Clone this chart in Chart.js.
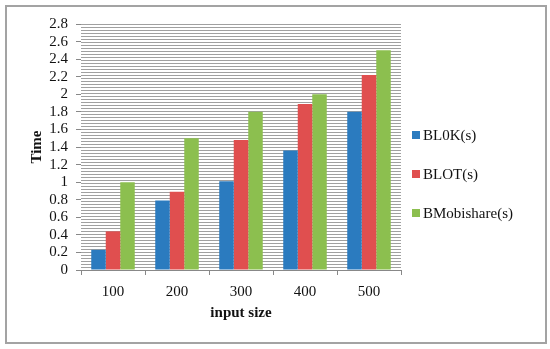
<!DOCTYPE html>
<html>
<head>
<meta charset="utf-8">
<script src="https://cdn.jsdelivr.net/npm/chart.js@4"></script>
<style>
  html, body { margin: 0; padding: 0; background: #fff; }
  #wrap { position: relative; width: 550px; height: 349px; }
  #frame { position: absolute; left: 5px; top: 5px; width: 538px; height: 335px; border: 2px solid #a3a3a3; pointer-events: none; }
  canvas { position: absolute; left: 0; top: 0; }
</style>
</head>
<body>
<div id="wrap">
  <canvas id="chart" width="550" height="349"></canvas>
  <div id="frame"></div>
</div>
<script>
const categories = ['100', '200', '300', '400', '500'];
const seriesNames = ['BL0K(s)', 'BLOT(s)', 'BMobishare(s)'];
const blokValues = [0.23, 0.79, 1.01, 1.36, 1.80];
const blotValues = [0.44, 0.89, 1.48, 1.89, 2.22];
const mobishareValues = [1.00, 1.50, 1.80, 2.00, 2.50];
const seriesColors = ['#2b7bbf', '#e04f4f', '#8cbf4f'];

const serif = "'Liberation Serif', 'DejaVu Serif', serif";

// striped plot background (Excel pattern fill)
const stripes = {
  id: 'stripes',
  beforeDatasetsDraw(chart) {
    const { ctx, chartArea: a } = chart;
    const pc = document.createElement('canvas');
    pc.width = 4; pc.height = 3;
    const p = pc.getContext('2d');
    p.fillStyle = '#ffffff';
    p.fillRect(0, 0, 4, 3);
    p.fillStyle = '#a0a0a0';
    p.fillRect(0, 0, 4, 1);
    ctx.save();
    ctx.fillStyle = ctx.createPattern(pc, 'repeat');
    ctx.fillRect(a.left, a.top, a.right - a.left, a.bottom - a.top);
    ctx.restore();
  }
};

// legend drawn to the right, matching the original spacing
const sideLegend = {
  id: 'sideLegend',
  afterDraw(chart) {
    const { ctx } = chart;
    ctx.save();
    ctx.font = '15px ' + serif;
    ctx.textBaseline = 'middle';
    chart.data.datasets.forEach((ds, i) => {
      const y = 135 + i * 39;
      ctx.fillStyle = ds.backgroundColor;
      ctx.fillRect(412, y - 4, 8, 8);
      ctx.fillStyle = '#111';
      ctx.fillText(ds.label, 423, y + 1);
    });
    ctx.restore();
  }
};

const ctx = document.getElementById('chart').getContext('2d');
new Chart(ctx, {
  type: 'bar',
  data: {
    labels: categories,
    datasets: [
      { label: seriesNames[0], data: blokValues, backgroundColor: seriesColors[0] },
      { label: seriesNames[1], data: blotValues, backgroundColor: seriesColors[1] },
      { label: seriesNames[2], data: mobishareValues, backgroundColor: seriesColors[2] }
    ]
  },
  options: {
    responsive: false,
    animation: false,
    devicePixelRatio: 1,
    categoryPercentage: 0.68,
    barPercentage: 1,
    layout: { padding: { top: 24, right: 149, left: 0, bottom: 0 } },
    plugins: {
      legend: { display: false },
      tooltip: { enabled: false }
    },
    scales: {
      x: {
        grid: { offset: true, drawOnChartArea: false, drawTicks: true, tickLength: 5, color: '#888' },
        border: { color: '#888', width: 1 },
        ticks: { color: '#111', padding: 8, font: { family: serif, size: 15 } },
        title: { display: true, text: 'input size', color: '#111', padding: { top: 0, bottom: 27 }, font: { family: serif, size: 15, weight: 'bold' } },
        afterFit(scale) { scale.height = 79; }
      },
      y: {
        min: 0,
        max: 2.8,
        ticks: {
          stepSize: 0.2,
          autoSkip: false,
          color: '#111',
          padding: 8,
          font: { family: serif, size: 15 },
          callback: v => String(Math.round(v * 10) / 10)
        },
        grid: { drawOnChartArea: false, drawTicks: true, tickLength: 5, color: '#888' },
        border: { color: '#888', width: 1 },
        title: { display: true, text: 'Time', color: '#111', padding: { top: 28, bottom: 0 }, font: { family: serif, size: 15, weight: 'bold' } },
        afterFit(scale) { scale.width = 81; }
      }
    }
  },
  plugins: [stripes, sideLegend]
});
</script>
</body>
</html>
